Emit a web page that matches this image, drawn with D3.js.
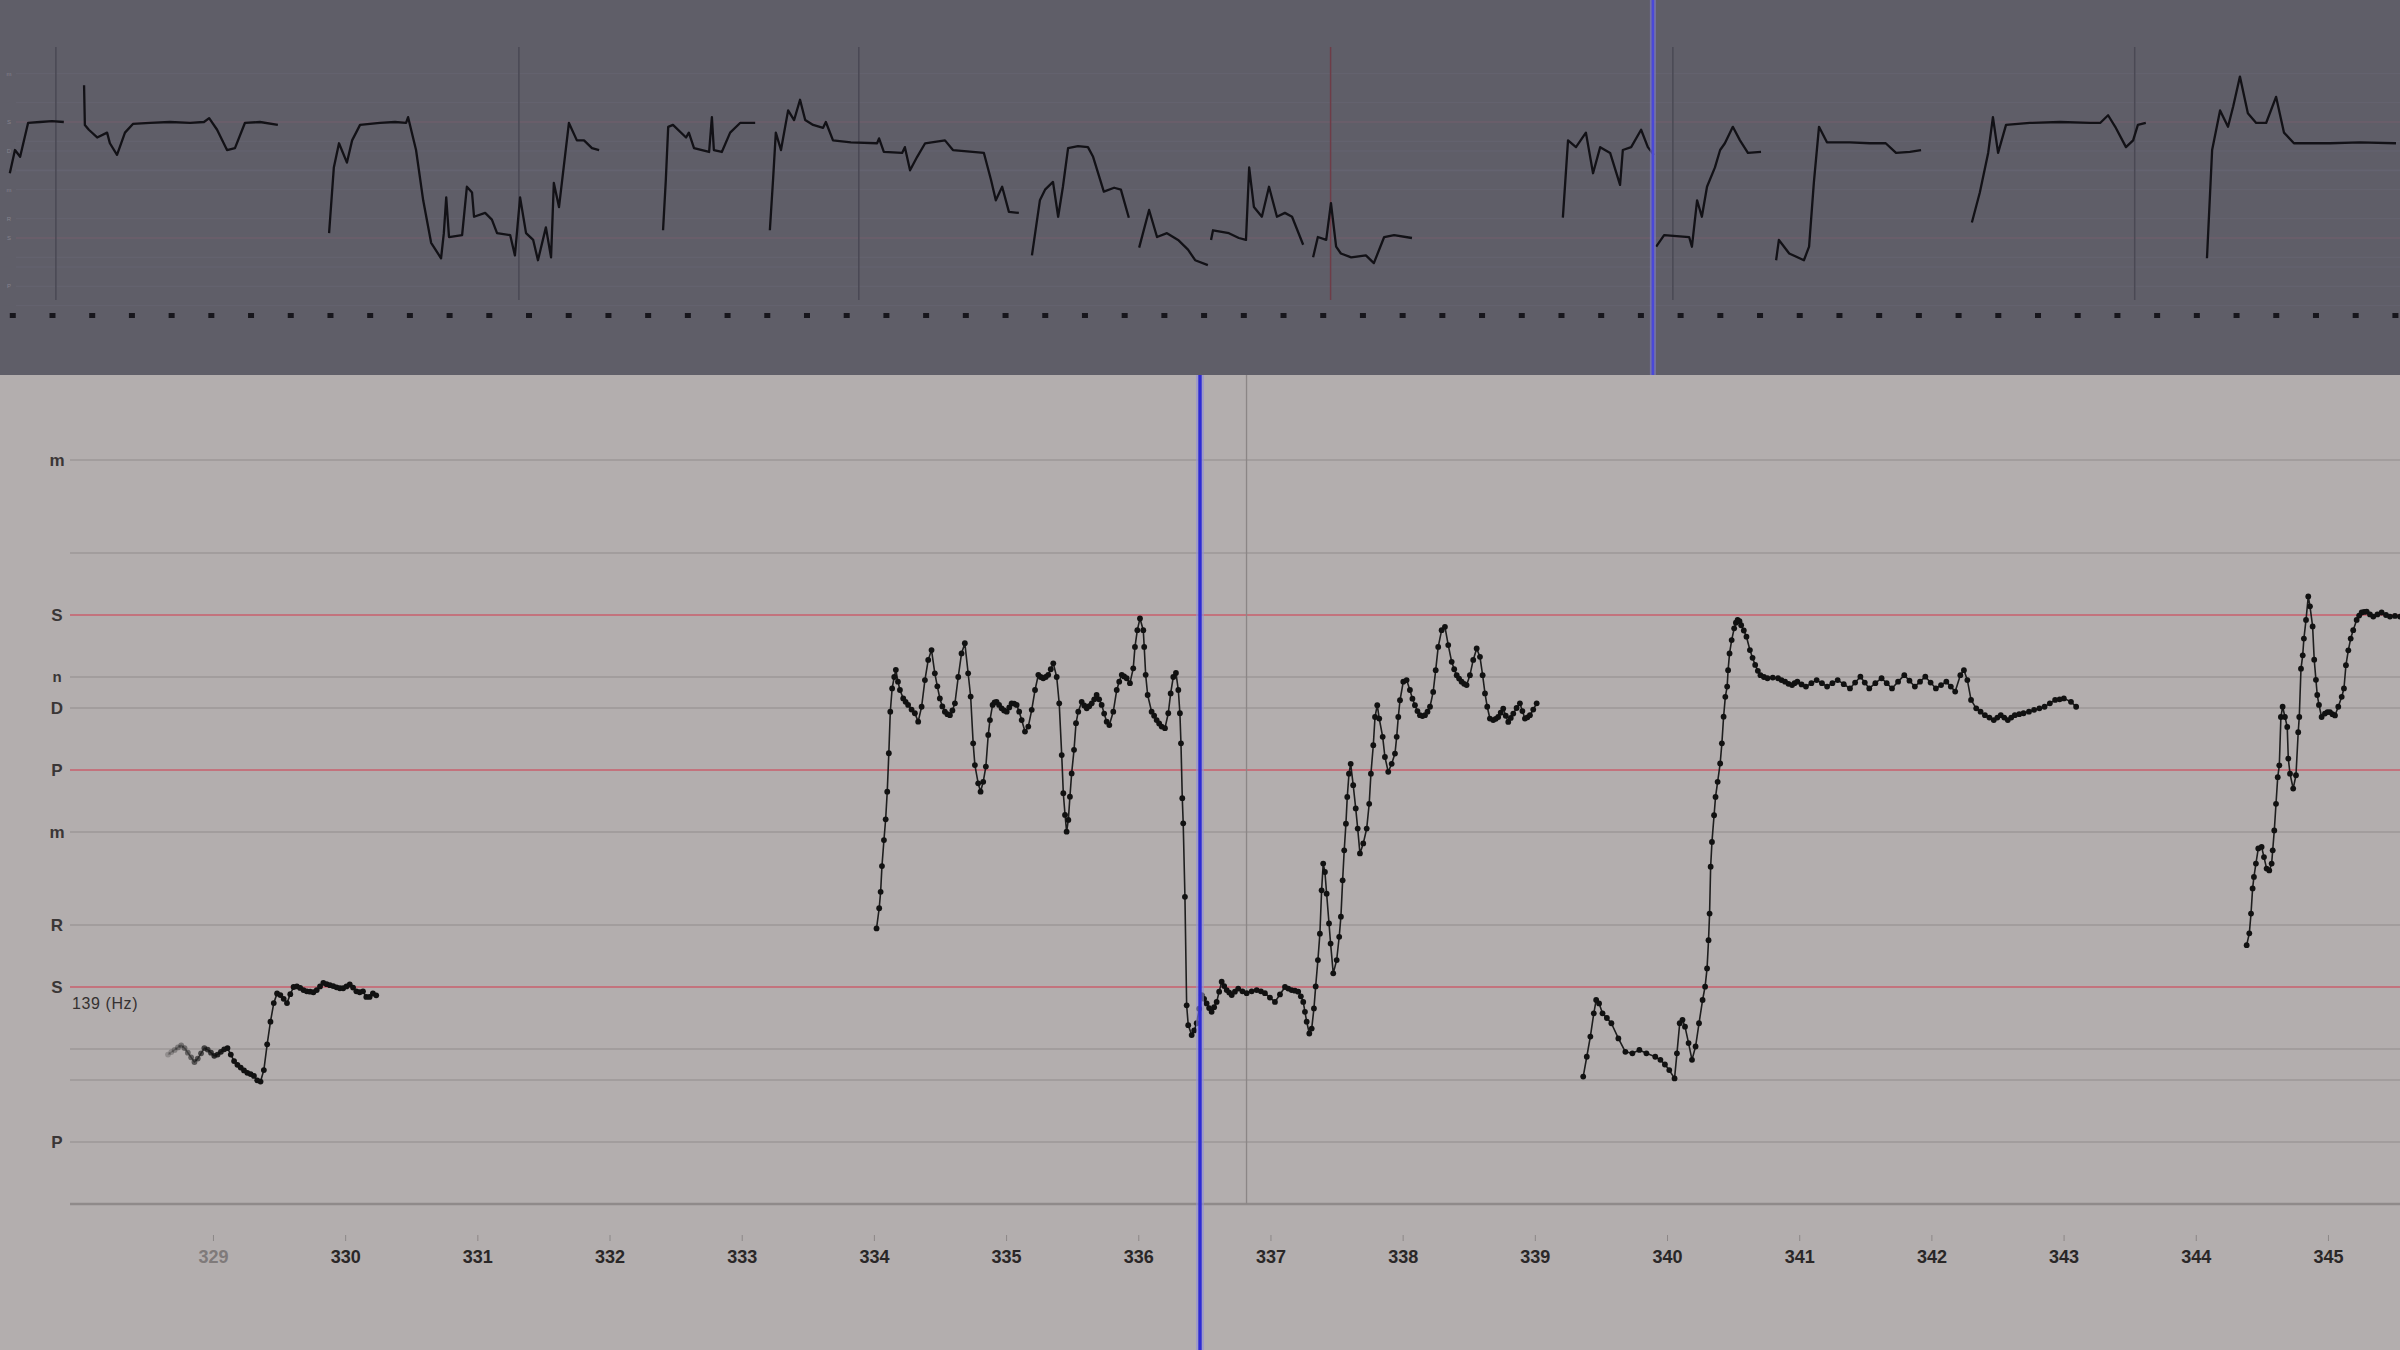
<!DOCTYPE html>
<html><head><meta charset="utf-8">
<script src="https://cdn.jsdelivr.net/npm/d3@7"></script>
<style>
html,body{margin:0;padding:0;background:#b3aeae;overflow:hidden;}
svg{display:block;}
</style></head><body>
<svg id="chart" width="2400" height="1350"></svg>
<script>
// ---------------- DATA ----------------
// Detail view: time window (s) and playhead
const viewRange = [327.389, 345.545];
const playhead = 336.467;
const markerTime = 336.819;
const timeTicks = [329,330,331,332,333,334,335,336,337,338,339,340,341,342,343,344,345];
const tonicHz = 139;
// Pitch grid in semitones above Sa (139 Hz)
const swaraSemitones = [17, 14, 12, 10, 9, 7, 5, 2, 0, -2, -3, -5, -7];
const swaraLabels    = ['m','', 'S','n','D','P','m','R','S','', '', 'P',''];
const redSwaras = [12, 7, 0];

// Pitch contour segments: [time (s), semitones above Sa]
const pitchSeg1 = [[328.660,-2.18],[328.685,-2.10],[328.710,-2.03],[328.735,-1.95],[328.760,-1.88],[328.785,-1.97],[328.810,-2.12],[328.835,-2.27],[328.860,-2.42],[328.885,-2.31],[328.910,-2.14],[328.935,-1.97],[328.960,-2.02],[328.985,-2.12],[329.010,-2.22],[329.035,-2.18],[329.060,-2.09],[329.085,-2.01],[329.110,-1.97],[329.135,-2.18],[329.160,-2.39],[329.185,-2.51],[329.210,-2.60],[329.235,-2.69],[329.260,-2.77],[329.285,-2.81],[329.310,-2.87],[329.335,-3.01],[329.360,-3.05],[329.385,-2.68],[329.410,-1.85],[329.435,-1.12],[329.460,-0.52],[329.485,-0.21],[329.510,-0.26],[329.535,-0.38],[329.560,-0.52],[329.585,-0.23],[329.610,0],[329.635,0.02],[329.660,-0.03],[329.685,-0.10],[329.710,-0.14],[329.735,-0.15],[329.760,-0.17],[329.785,-0.10],[329.810,0.02],[329.835,0.13],[329.860,0.09],[329.885,0.06],[329.910,0.03],[329.935,-0.01],[329.960,-0.04],[329.985,-0.04],[330.010,0.02],[330.035,0.08],[330.060,-0.02],[330.085,-0.14],[330.110,-0.17],[330.135,-0.14],[330.160,-0.32],[330.185,-0.32],[330.210,-0.21],[330.235,-0.27]];

const pitchSeg2 = [[334.020,1.89],[334.040,2.54],[334.051,3.07],[334.061,3.90],[334.076,4.74],[334.089,5.41],[334.101,6.30],[334.113,7.54],[334.124,8.88],[334.138,9.63],[334.154,10.00],[334.166,10.23],[334.182,9.85],[334.197,9.58],[334.222,9.31],[334.240,9.20],[334.259,9.10],[334.285,8.95],[334.310,8.83],[334.335,8.56],[334.361,9.04],[334.386,9.90],[334.411,10.55],[334.436,10.87],[334.461,10.12],[334.480,9.70],[334.499,9.31],[334.518,9.05],[334.537,8.88],[334.556,8.80],[334.575,8.77],[334.594,8.92],[334.613,9.15],[334.638,10.00],[334.663,10.76],[334.688,11.09],[334.713,10.12],[334.732,9.37],[334.751,7.86],[334.764,7.16],[334.789,6.57],[334.807,6.30],[334.827,6.62],[334.847,7.11],[334.865,8.13],[334.878,8.61],[334.898,9.10],[334.913,9.18],[334.928,9.20],[334.947,9.10],[334.966,8.99],[334.985,8.92],[335.005,8.88],[335.024,9.02],[335.042,9.15],[335.061,9.14],[335.080,9.10],[335.099,8.88],[335.118,8.61],[335.143,8.24],[335.168,8.40],[335.194,8.94],[335.219,9.58],[335.244,10.07],[335.262,10.00],[335.281,9.96],[335.300,10.00],[335.319,10.07],[335.338,10.25],[335.357,10.44],[335.383,10.00],[335.402,9.15],[335.421,7.48],[335.433,6.25],[335.446,5.55],[335.458,5.01],[335.471,5.39],[335.483,6.14],[335.496,6.89],[335.514,7.65],[335.529,8.51],[335.546,8.88],[335.572,9.20],[335.591,9.08],[335.610,8.99],[335.629,9.06],[335.648,9.15],[335.667,9.28],[335.685,9.42],[335.704,9.28],[335.723,9.10],[335.742,8.82],[335.761,8.56],[335.781,8.45],[335.811,8.88],[335.837,9.58],[335.856,9.85],[335.875,10.07],[335.893,10.02],[335.912,9.96],[335.937,9.80],[335.962,10.28],[335.975,10.97],[335.993,11.51],[336.013,11.89],[336.038,11.51],[336.045,10.97],[336.056,10.07],[336.071,9.42],[336.101,8.88],[336.120,8.75],[336.139,8.61],[336.158,8.50],[336.177,8.40],[336.202,8.35],[336.227,8.83],[336.245,9.47],[336.265,10.00],[336.285,10.13],[336.303,9.58],[336.315,8.83],[336.323,7.86],[336.333,6.09],[336.340,5.28],[336.353,2.91],[336.366,-0.59],[336.378,-1.23],[336.404,-1.55],[336.423,-1.40],[336.442,-1.17],[336.461,-0.70],[336.480,-0.26],[336.498,-0.38],[336.517,-0.53],[336.536,-0.68],[336.555,-0.80],[336.574,-0.65],[336.593,-0.48],[336.612,-0.15],[336.631,0.17],[336.650,0.03],[336.669,-0.10],[336.688,-0.18],[336.707,-0.26],[336.731,-0.15],[336.756,-0.05],[336.788,-0.14],[336.820,-0.20],[336.858,-0.14],[336.896,-0.10],[336.928,-0.14],[336.958,-0.20],[336.996,-0.34],[337.034,-0.48],[337.072,-0.24],[337.110,0.00],[337.135,-0.05],[337.160,-0.10],[337.185,-0.12],[337.210,-0.15],[337.230,-0.30],[337.248,-0.48],[337.261,-0.80],[337.274,-1.12],[337.294,-1.50],[337.312,-1.34],[337.329,-0.69],[337.342,0.02],[337.359,0.87],[337.374,1.72],[337.387,3.12],[337.399,3.98],[337.412,3.71],[337.425,3.01],[337.443,2.05],[337.455,1.40],[337.475,0.44],[337.501,0.87],[337.520,1.62],[337.533,2.27],[337.546,3.44],[337.558,4.41],[337.571,5.27],[337.581,6.13],[337.594,6.88],[337.607,7.20],[337.626,6.51],[337.645,5.76],[337.660,5.11],[337.677,4.31],[337.702,4.63],[337.728,5.11],[337.747,5.91],[337.760,6.88],[337.778,7.80],[337.791,8.71],[337.808,9.09],[337.823,8.66],[337.849,8.07],[337.866,7.42],[337.891,6.94],[337.917,7.20],[337.942,7.53],[337.955,8.07],[337.967,8.71],[337.980,9.25],[338.005,9.85],[338.030,9.90],[338.055,9.58],[338.074,9.30],[338.093,9.09],[338.112,8.90],[338.131,8.77],[338.150,8.74],[338.169,8.77],[338.188,8.88],[338.207,9.04],[338.231,9.52],[338.250,10.22],[338.269,10.97],[338.295,11.51],[338.320,11.62],[338.345,11.03],[338.371,10.49],[338.390,10.25],[338.409,10.06],[338.427,9.95],[338.446,9.85],[338.465,9.78],[338.484,9.74],[338.509,10.06],[338.534,10.55],[338.560,10.92],[338.585,10.65],[338.605,10.06],[338.623,9.47],[338.640,9.04],[338.660,8.66],[338.685,8.61],[338.704,8.65],[338.723,8.71],[338.742,8.85],[338.761,8.98],[338.780,8.75],[338.799,8.55],[338.818,8.68],[338.837,8.82],[338.862,9.00],[338.887,9.15],[338.906,8.90],[338.925,8.66],[338.944,8.70],[338.963,8.77],[338.988,8.95],[339.014,9.15]];

const pitchSeg3 = [[339.366,-2.89],[339.393,-2.25],[339.420,-1.60],[339.446,-0.85],[339.464,-0.42],[339.486,-0.53],[339.512,-0.85],[339.545,-1.00],[339.579,-1.17],[339.632,-1.66],[339.685,-2.09],[339.738,-2.14],[339.791,-2.03],[339.844,-2.14],[339.911,-2.25],[339.950,-2.35],[339.984,-2.50],[340.017,-2.68],[340.057,-2.95],[340.075,-2.14],[340.096,-1.17],[340.117,-1.06],[340.136,-1.28],[340.163,-1.81],[340.189,-2.35],[340.216,-1.92],[340.242,-1.17],[340.269,-0.42],[340.288,0.01],[340.303,0.60],[340.314,1.51],[340.322,2.37],[340.330,3.88],[340.340,4.68],[340.356,5.54],[340.367,6.13],[340.383,6.62],[340.402,7.21],[340.415,7.86],[340.428,8.72],[340.441,9.36],[340.455,9.69],[340.462,10.22],[340.473,10.76],[340.489,11.19],[340.508,11.57],[340.521,11.75],[340.534,11.84],[340.548,11.80],[340.561,11.67],[340.581,11.50],[340.601,11.30],[340.627,10.87],[340.647,10.62],[340.667,10.39],[340.687,10.20],[340.707,10.06],[340.733,10.00],[340.760,9.96],[340.800,9.98],[340.840,9.96],[340.866,9.90],[340.893,9.85],[340.919,9.78],[340.946,9.74],[340.965,9.80],[340.986,9.85],[341.018,9.76],[341.051,9.69],[341.092,9.80],[341.132,9.90],[341.172,9.80],[341.211,9.69],[341.251,9.80],[341.291,9.90],[341.337,9.77],[341.384,9.63],[341.423,9.82],[341.463,10.01],[341.496,9.82],[341.530,9.63],[341.576,9.80],[341.623,9.96],[341.662,9.80],[341.702,9.63],[341.748,9.85],[341.795,10.06],[341.834,9.88],[341.875,9.69],[341.914,9.85],[341.954,10.01],[341.994,9.82],[342.034,9.63],[342.073,9.74],[342.113,9.85],[342.147,9.69],[342.180,9.53],[342.219,10.06],[342.246,10.22],[342.272,9.90],[342.300,9.26],[342.339,8.99],[342.372,8.88],[342.405,8.77],[342.439,8.69],[342.472,8.61],[342.499,8.69],[342.525,8.77],[342.551,8.69],[342.578,8.61],[342.604,8.69],[342.631,8.77],[342.664,8.80],[342.697,8.83],[342.738,8.88],[342.777,8.94],[342.817,8.99],[342.856,9.04],[342.896,9.15],[342.936,9.26],[342.970,9.28],[343.002,9.31],[343.056,9.20],[343.095,9.04]];

const pitchSeg4 = [[344.385,1.35],[344.405,1.73],[344.418,2.37],[344.430,3.18],[344.440,3.55],[344.455,3.98],[344.473,4.47],[344.498,4.52],[344.516,4.19],[344.536,3.82],[344.556,3.76],[344.574,3.98],[344.582,4.41],[344.594,5.05],[344.607,5.91],[344.620,6.77],[344.632,7.15],[344.644,8.71],[344.657,9.04],[344.675,8.71],[344.692,8.39],[344.700,7.37],[344.713,6.88],[344.737,6.40],[344.758,6.83],[344.775,8.22],[344.783,8.71],[344.796,10.27],[344.809,10.70],[344.818,11.24],[344.834,11.84],[344.851,12.60],[344.864,12.28],[344.884,11.63],[344.896,10.56],[344.909,9.91],[344.919,9.42],[344.932,9.10],[344.952,8.71],[344.977,8.82],[344.996,8.87],[345.015,8.87],[345.034,8.80],[345.053,8.76],[345.078,9.04],[345.104,9.36],[345.121,9.63],[345.136,10.38],[345.154,10.86],[345.172,11.24],[345.191,11.51],[345.217,11.84],[345.236,11.98],[345.255,12.08],[345.274,12.10],[345.293,12.11],[345.318,12.02],[345.343,11.95],[345.374,12.02],[345.406,12.08],[345.439,12.00],[345.469,11.95],[345.507,11.97],[345.545,11.95],[345.583,12.00]];

// Overview (top strip): time window, cursor, beat grid, section marks
const overviewRange = [294.843, 355.281];
const beatStart = 295.165;
const sectionMarks = [296.25, 307.91, 316.47, 328.35, 336.97, 348.60];
const sectionRed = [328.35];
const ovA = [[295.09,6.7],[295.22,9.1],[295.35,8.4],[295.55,11.9],[295.85,12.0],[296.15,12.1],[296.45,12.0]];
const ovB = [[296.96,15.8],[296.98,11.7],[297.08,11.2],[297.29,10.4],[297.54,10.9],[297.61,9.8],[297.79,8.6],[297.99,10.9],[298.19,11.8],[298.62,11.9],[299.12,12.0],[299.63,11.9],[299.98,12.0],[300.11,12.4],[300.31,11.2],[300.56,9.1],[300.76,9.3],[301.01,11.9],[301.39,12.0],[301.84,11.7]];
const ovC = [[303.13,0.5],[303.25,7.3],[303.38,9.8],[303.58,7.8],[303.71,10.1],[303.91,11.7],[304.41,11.9],[304.79,12.0],[305.07,11.9],[305.12,12.5],[305.32,9.1],[305.50,3.9],[305.70,-0.5],[305.95,-2.1],[306.02,0.5],[306.08,4.2],[306.15,0.1],[306.48,0.3],[306.60,5.3],[306.73,4.7],[306.78,2.2],[307.06,2.6],[307.23,1.9],[307.36,0.5],[307.69,0.3],[307.81,-1.8],[307.94,4.2],[308.09,0.5],[308.27,-0.2],[308.39,-2.3],[308.59,1.1],[308.72,-2.0],[308.79,5.7],[308.92,3.2],[309.17,11.9],[309.37,10.1],[309.55,10.1],[309.75,9.3],[309.93,9.1]];
const ovD = [[311.54,0.8],[311.61,6.0],[311.67,11.5],[311.79,11.7],[312.12,10.4],[312.19,10.9],[312.32,9.3],[312.70,8.9],[312.77,12.5],[312.82,9.1],[313.02,8.9],[313.23,10.9],[313.48,11.9],[313.86,11.9]];
const ovE = [[314.23,0.8],[314.31,6.0],[314.38,10.9],[314.51,9.1],[314.69,13.2],[314.84,12.2],[314.99,14.3],[315.12,12.2],[315.32,11.7],[315.57,11.4],[315.64,12.0],[315.82,10.1],[316.27,9.9],[316.93,9.8],[316.98,10.3],[317.10,8.9],[317.56,8.8],[317.63,9.4],[317.76,7.0],[317.94,8.4],[318.14,9.8],[318.64,10.1],[318.84,9.1],[319.62,8.8],[319.80,6.0],[319.92,3.9],[320.08,5.3],[320.25,2.7],[320.50,2.6]];
const ovF = [[320.83,-1.8],[321.03,3.9],[321.16,5.0],[321.36,5.8],[321.49,2.2],[321.61,5.3],[321.74,9.3],[321.99,9.5],[322.24,9.4],[322.37,8.4],[322.64,4.8],[322.90,5.2],[323.07,5.0],[323.27,2.1]];
const ovG = [[323.53,-1.0],[323.78,2.9],[323.98,0.1],[324.23,0.5],[324.51,-0.2],[324.76,-1.2],[324.94,-2.3],[325.26,-2.8]];
const ovH = [[325.34,-0.2],[325.39,0.8],[325.79,0.5],[326.04,0.0],[326.22,-0.2],[326.30,7.3],[326.42,3.2],[326.62,2.2],[326.80,5.3],[327.00,2.2],[327.20,2.6],[327.38,2.2],[327.66,-0.7]];
const ovI = [[327.91,-2.0],[328.03,0.1],[328.24,-0.2],[328.36,3.6],[328.49,-0.9],[328.61,-1.6],[328.87,-2.0],[329.24,-1.8],[329.44,-2.6],[329.70,0.1],[329.95,0.3],[330.40,0.0]];
const ovJ = [[334.20,2.1],[334.33,10.1],[334.53,9.4],[334.78,10.9],[334.96,6.7],[335.14,9.4],[335.39,8.8],[335.64,5.5],[335.71,9.1],[335.92,9.4],[336.17,11.2],[336.34,9.4],[336.49,8.6]];
const ovK = [[336.55,-0.9],[336.75,0.3],[337.38,0.1],[337.45,-0.9],[337.58,3.9],[337.70,2.2],[337.83,5.3],[338.03,7.3],[338.16,9.1],[338.28,9.8],[338.48,11.5],[338.66,10.1],[338.86,8.8],[339.19,8.9]];
const ovL = [[339.57,-2.3],[339.64,-0.2],[339.90,-1.6],[340.27,-2.3],[340.40,-0.9],[340.52,5.7],[340.65,11.5],[340.85,9.9],[341.43,9.9],[341.93,9.8],[342.33,9.8],[342.59,8.8],[342.94,8.9],[343.22,9.1]];
const ovM = [[344.50,1.6],[344.70,4.7],[344.91,8.8],[345.03,12.5],[345.16,8.8],[345.36,11.7],[345.96,11.9],[346.72,12.0],[347.48,11.9],[347.73,11.9],[347.93,12.7],[348.11,11.5],[348.38,9.4],[348.56,10.1],[348.68,11.7],[348.88,11.9]];
const ovN = [[350.42,-2.1],[350.55,9.1],[350.75,13.2],[350.95,11.5],[351.08,13.6],[351.25,16.7],[351.45,12.9],[351.66,11.9],[351.91,11.9],[352.16,14.6],[352.36,10.9],[352.61,9.8],[353.52,9.8],[354.27,9.9],[355.18,9.8]];

// ---------------- DRAW ----------------
const W = 2400, H = 1350, TOP_H = 375, PLOT_L = 70;
const FONT = "'Liberation Sans', Arial, sans-serif";
const svg = d3.select('#chart');

svg.append('rect').attr('x',0).attr('y',0).attr('width',W).attr('height',TOP_H).attr('fill','#5f5e68');
svg.append('rect').attr('x',0).attr('y',TOP_H).attr('width',W).attr('height',H-TOP_H).attr('fill','#b3aeae');

const x = d3.scaleLinear().domain(viewRange).range([0, W]);
const y = d3.scaleLinear().domain([0, 12]).range([987, 615]);
const xo = d3.scaleLinear().domain(overviewRange).range([0, W]);
const yo = d3.scaleLinear().domain([0, 12]).range([238, 122]);

// ---- overview strip ----
const gTop = svg.append('g');
gTop.selectAll('line.og').data(swaraSemitones).join('line')
  .attr('x1', 16).attr('x2', W)
  .attr('y1', d => yo(d)).attr('y2', d => yo(d))
  .attr('stroke', d => redSwaras.includes(d) && d !== 7 ? '#6d5f6b' : '#646370')
  .attr('stroke-width', d => redSwaras.includes(d) ? 1.6 : 1);
gTop.selectAll('text.ol').data(swaraSemitones.filter((d,i) => swaraLabels[i] && swaraLabels[i] !== 'n' && !(d===7))).join('text')
  .attr('x', 9).attr('y', d => yo(d)).attr('dy','0.35em')
  .attr('text-anchor','middle').attr('font-family',FONT).attr('font-size',6)
  .attr('fill','#85838e')
  .text(d => swaraLabels[swaraSemitones.indexOf(d)]);
gTop.selectAll('line.sec').data(sectionMarks).join('line')
  .attr('x1', d => xo(d)).attr('x2', d => xo(d)).attr('y1', 47).attr('y2', 300)
  .attr('stroke', d => sectionRed.includes(d) ? '#6e3c47' : '#4a4954')
  .attr('stroke-width', 1.5);
const beats = d3.range(beatStart, overviewRange[1], 1);
gTop.selectAll('rect.beat').data(beats).join('rect')
  .attr('x', d => xo(d) - 3).attr('y', 313).attr('width', 6).attr('height', 5)
  .attr('fill', '#17161c');
const ovLine = d3.line().x(d => xo(d[0])).y(d => yo(d[1]));
const overviewSegs = [ovA, ovB, ovC, ovD, ovE, ovF, ovG, ovH, ovI, ovJ, ovK, ovL, ovM, ovN];
gTop.selectAll('path.ov').data(overviewSegs).join('path')
  .attr('d', ovLine).attr('fill','none').attr('stroke','#121116')
  .attr('stroke-width', 2.3).attr('stroke-linejoin','round');
// overview cursor
gTop.append('line').attr('x1', xo(playhead)).attr('x2', xo(playhead)).attr('y1',0).attr('y2',TOP_H)
  .attr('stroke','#8683d6').attr('stroke-width',6).attr('opacity',0.55);
gTop.append('line').attr('x1', xo(playhead)).attr('x2', xo(playhead)).attr('y1',0).attr('y2',TOP_H)
  .attr('stroke','#4a48d8').attr('stroke-width',2.6);

// ---- detail panel ----
const gLow = svg.append('g');
gLow.selectAll('line.grid').data(swaraSemitones).join('line')
  .attr('x1', PLOT_L).attr('x2', W)
  .attr('y1', d => y(d)).attr('y2', d => y(d))
  .attr('stroke', d => redSwaras.includes(d) ? '#c85f6d' : (d === -7 ? '#8f8a8a' : '#9c9797'))
  .attr('stroke-width', d => d === -7 ? 2.6 : 1.7);
gLow.selectAll('text.sw').data(swaraSemitones.map((d,i)=>({s:d,l:swaraLabels[i]})).filter(d=>d.l)).join('text')
  .attr('x', 57).attr('y', d => y(d.s)).attr('dy','0.36em')
  .attr('text-anchor','middle').attr('font-family',FONT).attr('font-weight','bold')
  .attr('font-size', d => d.l === 'n' ? 15 : 17).attr('fill','#3a3636')
  .text(d => d.l);
gLow.append('text').attr('x', 72).attr('y', y(0) + 22)
  .attr('font-family',FONT).attr('font-size',16).attr('letter-spacing',0.6)
  .attr('fill','#353131').text(`${tonicHz} (Hz)`);

// marker line
gLow.append('line').attr('x1', x(markerTime)).attr('x2', x(markerTime)).attr('y1', TOP_H).attr('y2', y(-7))
  .attr('stroke','#8b8686').attr('stroke-width',1.3);

// x axis
const axis = d3.axisBottom(x).tickValues(timeTicks).tickSize(6).tickPadding(9).tickFormat(d3.format('d'));
const gx = svg.append('g').attr('transform','translate(0,1235)').call(axis);
gx.select('.domain').remove();
gx.selectAll('.tick line').attr('stroke','#8c8787').attr('stroke-width',1);
gx.selectAll('.tick text').attr('font-family',FONT).attr('font-size',18).attr('font-weight','bold')
  .attr('fill', d => d === timeTicks[0] ? '#7f7a7a' : '#2a2727');

// pitch contours
const defs = svg.append('defs');
const fadeFrom = pitchSeg1[0][0], fadeTo = pitchSeg1[18][0];
const grad = defs.append('linearGradient').attr('id','fade').attr('gradientUnits','userSpaceOnUse')
  .attr('x1', x(fadeFrom)).attr('x2', x(fadeTo)).attr('y1',0).attr('y2',0);
grad.append('stop').attr('offset',0).attr('stop-color','#1e1e1e').attr('stop-opacity',0.2);
grad.append('stop').attr('offset',1).attr('stop-color','#1e1e1e').attr('stop-opacity',1);
const fadeOp = d3.scaleLinear().domain([fadeFrom, fadeTo]).range([0.2, 1]).clamp(true);

const line = d3.line().x(d => x(d[0])).y(d => y(d[1]));
const lowerSegs = [pitchSeg1, pitchSeg2, pitchSeg3, pitchSeg4];
const gC = svg.append('g');
lowerSegs.forEach((seg, i) => {
  gC.append('path').datum(seg).attr('d', line).attr('fill','none')
    .attr('stroke', i === 0 ? 'url(#fade)' : '#1e1e1e').attr('stroke-width', 1.6)
    .attr('stroke-linejoin','round');
  gC.selectAll(null).data(seg).join('circle')
    .attr('cx', d => x(d[0])).attr('cy', d => y(d[1])).attr('r', 2.9)
    .attr('fill', '#111')
    .attr('fill-opacity', d => i === 0 ? fadeOp(d[0]) : 1);
});

// playhead
svg.append('line').attr('x1', x(playhead)).attr('x2', x(playhead)).attr('y1', TOP_H).attr('y2', H)
  .attr('stroke','#9290d6').attr('stroke-width',8).attr('opacity',0.6);
svg.append('line').attr('x1', x(playhead)).attr('x2', x(playhead)).attr('y1', TOP_H).attr('y2', H)
  .attr('stroke','#2e2bd4').attr('stroke-width',3.4);
</script>
</body></html>
